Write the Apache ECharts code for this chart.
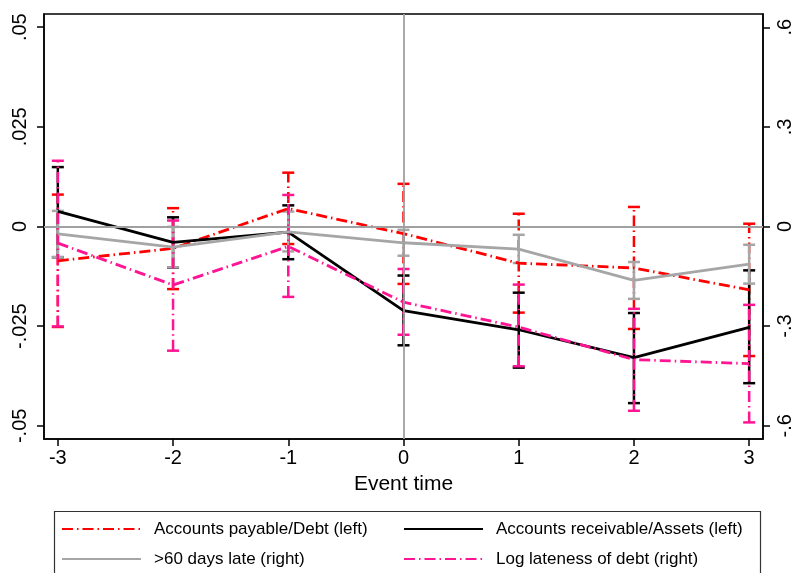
<!DOCTYPE html>
<html>
<head>
<meta charset="utf-8">
<script src="https://cdn.jsdelivr.net/npm/echarts@6/dist/echarts.min.js"></script>
<style>
html,body{margin:0;padding:0;background:#fff;}
#chart{width:795px;height:573px;}
</style>
</head>
<body>
<div id="chart"></div>
<script>
// ---- data ----
const eventTime = [-3, -2, -1, 0, 1, 2, 3];

// Accounts payable/Debt (left axis)
const apDebt   = [-0.0086, -0.0055, 0.0045, -0.0018, -0.0092, -0.0104, -0.0159];
const apDebtLo = [-0.0252, -0.0157, -0.0044, -0.0144, -0.0216, -0.0257, -0.0325];
const apDebtHi = [ 0.0080,  0.0046,  0.0135,  0.0107,  0.0032,  0.0049,  0.0007];

// Accounts receivable/Assets (left axis)
const arAssets   = [ 0.0038, -0.0040, -0.0014, -0.0211, -0.0259, -0.0329, -0.0253];
const arAssetsLo = [-0.0077, -0.0103, -0.0082, -0.0298, -0.0354, -0.0443, -0.0393];
const arAssetsHi = [ 0.0149,  0.0023,  0.0053, -0.0123, -0.0166, -0.0217, -0.0110];

// >60 days late (right axis)
const late60   = [-0.022, -0.062, -0.016, -0.049, -0.068, -0.162, -0.113];
const late60Lo = [-0.092, -0.123, -0.075, -0.088, -0.110, -0.218, -0.172];
const late60Hi = [ 0.047, -0.001,  0.045, -0.010, -0.025, -0.107, -0.055];

// Log lateness of debt (right axis)
const logLate   = [-0.050, -0.176, -0.060, -0.228, -0.303, -0.401, -0.413];
const logLateLo = [-0.301, -0.374, -0.212, -0.326, -0.421, -0.555, -0.590];
const logLateHi = [ 0.198,  0.018,  0.095, -0.128, -0.175, -0.248, -0.236];

// tick values / labels
const xTickValues = [-3, -2, -1, 0, 1, 2, 3];
const xTickLabels = ['-3', '-2', '-1', '0', '1', '2', '3'];
const leftTickValues = [-0.05, -0.025, 0, 0.025, 0.05];
const leftTickLabels = ['-.05', '-.025', '0', '.025', '.05'];
const rightTickValues = [-0.6, -0.3, 0, 0.3, 0.6];
const rightTickLabels = ['-.6', '-.3', '0', '.3', '.6'];

const seriesNames = [
  'Accounts payable/Debt (left)',
  'Accounts receivable/Assets (left)',
  '>60 days late (right)',
  'Log lateness of debt (right)'
];

// ---- styling ----
const FONT = '"Liberation Sans", Arial, Helvetica, sans-serif';
const RED = '#ff0000', BLACK = '#000000', GRAY = '#a6a6a6', PINK = '#ff1493';
const DASHDOT = [11, 4, 1.5, 4];
const LW = 2.8;

function lookup(values, labels) {
  return function (v) {
    let best = 0;
    for (let i = 1; i < values.length; i++) {
      if (Math.abs(values[i] - v) < Math.abs(values[best] - v)) best = i;
    }
    return labels[best];
  };
}

function pairs(vals) { return eventTime.map((x, i) => [x, vals[i]]); }
function triples(lo, hi) { return eventTime.map((x, i) => [x, lo[i], hi[i]]); }

function barRenderer(color, dash) {
  return function (params, api) {
    const x = api.value(0);
    const a = api.coord([x, api.value(1)]);
    const b = api.coord([x, api.value(2)]);
    const hw = 6;
    return {
      type: 'group',
      children: [
        { type: 'line', shape: { x1: a[0], y1: a[1], x2: b[0], y2: b[1] },
          style: { stroke: color, lineWidth: 2.5, lineDash: dash || null } },
        { type: 'line', shape: { x1: a[0] - hw, y1: a[1], x2: a[0] + hw, y2: a[1] },
          style: { stroke: color, lineWidth: 2.5 } },
        { type: 'line', shape: { x1: b[0] - hw, y1: b[1], x2: b[0] + hw, y2: b[1] },
          style: { stroke: color, lineWidth: 2.5 } }
      ]
    };
  };
}

function errSeries(name, yIdx, lo, hi, color, dash) {
  return {
    name: name, type: 'custom', yAxisIndex: yIdx,
    renderItem: barRenderer(color, dash),
    encode: { x: 0, y: [1, 2] },
    data: triples(lo, hi), z: 3, silent: true
  };
}

function lineSeries(name, yIdx, vals, color, dash) {
  return {
    name: name, type: 'line', yAxisIndex: yIdx,
    data: pairs(vals), symbol: 'none', showSymbol: false,
    lineStyle: { color: color, width: LW, type: dash || 'solid' },
    itemStyle: { color: color }, z: 4
  };
}

const chart = echarts.init(document.getElementById('chart'), null, { renderer: 'canvas' });

const legendCommon = {
  orient: 'vertical', itemWidth: 79, itemHeight: 14, itemGap: 10,
  padding: 0, height: 54, selectedMode: false,
  itemStyle: { opacity: 0 },
  textStyle: { fontFamily: FONT, fontSize: 17, color: '#000', lineHeight: 20, padding: [0, 0, 0, 8] }
};

chart.setOption({
  animation: false,
  backgroundColor: '#fff',
  textStyle: { fontFamily: FONT },
  grid: { left: 44, right: 29, top: 14, bottom: 134, show: true, borderColor: '#000', borderWidth: 1.5, backgroundColor: 'transparent' },
  xAxis: {
    type: 'value', min: -3.12, max: 3.12,
    name: 'Event time', nameLocation: 'middle', nameGap: 35,
    nameTextStyle: { fontFamily: FONT, fontSize: 21, color: '#000' },
    splitLine: { show: false },
    axisLine: { show: true, onZero: false, lineStyle: { color: '#000', width: 1.5 } },
    axisTick: { show: true, length: 7, customValues: xTickValues, lineStyle: { color: '#000', width: 1.5 } },
    axisLabel: { customValues: xTickValues, formatter: lookup(xTickValues, xTickLabels),
      fontFamily: FONT, fontSize: 20, color: '#000', margin: 9 }
  },
  yAxis: [
    {
      type: 'value', position: 'left', min: -0.0533, max: 0.0533,
      splitLine: { show: false },
      axisLine: { show: true, onZero: false, lineStyle: { color: '#000', width: 1.5 } },
      axisTick: { show: true, length: 7, customValues: leftTickValues, lineStyle: { color: '#000', width: 1.5 } },
      axisLabel: { customValues: leftTickValues, formatter: lookup(leftTickValues, leftTickLabels),
        rotate: 90, fontFamily: FONT, fontSize: 20, color: '#000', margin: 14 }
    },
    {
      type: 'value', position: 'right', min: -0.64, max: 0.64,
      splitLine: { show: false },
      axisLine: { show: true, onZero: false, lineStyle: { color: '#000', width: 1.5 } },
      axisTick: { show: true, length: 7, customValues: rightTickValues, lineStyle: { color: '#000', width: 1.5 } },
      axisLabel: { customValues: rightTickValues, formatter: lookup(rightTickValues, rightTickLabels),
        rotate: 90, fontFamily: FONT, fontSize: 20, color: '#000', margin: 12 }
    }
  ],
  legend: [
    Object.assign({}, legendCommon, { left: 61, top: 519, data: [seriesNames[0], seriesNames[2]] }),
    Object.assign({}, legendCommon, { left: 403, top: 519, data: [seriesNames[1], seriesNames[3]] })
  ],
  graphic: [
    { type: 'rect', left: 52, top: 509, shape: { width: 706, height: 90 },
      style: { fill: 'none', stroke: '#333', lineWidth: 1.2 }, z: 0 }
  ],
  series: [
    {
      name: 'zero-lines', type: 'line', data: [], symbol: 'none', z: 1, silent: true,
      markLine: {
        silent: true, symbol: 'none', animation: false,
        label: { show: false },
        lineStyle: { color: '#a0a0a0', width: 1.8, type: 'solid' },
        data: [{ yAxis: 0 }, { xAxis: 0 }]
      }
    },
    errSeries('ci-ap', 0, apDebtLo, apDebtHi, RED, DASHDOT),
    errSeries('ci-ar', 0, arAssetsLo, arAssetsHi, BLACK, null),
    errSeries('ci-late', 1, late60Lo, late60Hi, GRAY, null),
    errSeries('ci-log', 1, logLateLo, logLateHi, PINK, DASHDOT),
    lineSeries(seriesNames[0], 0, apDebt, RED, DASHDOT),
    lineSeries(seriesNames[1], 0, arAssets, BLACK, null),
    lineSeries(seriesNames[2], 1, late60, GRAY, null),
    lineSeries(seriesNames[3], 1, logLate, PINK, DASHDOT)
  ]
});
</script>
</body>
</html>
